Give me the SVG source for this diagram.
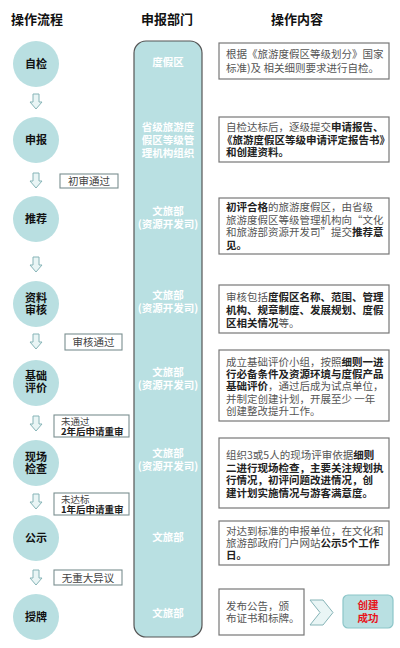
<svg xmlns="http://www.w3.org/2000/svg" xmlns:xlink="http://www.w3.org/1999/xlink" width="400" height="648" viewBox="0 0 400 648">
<style>
text{font-family:"Microsoft YaHei","Noto Sans CJK SC","Noto Sans",sans-serif;}
.hdr{font-size:13px;font-weight:bold;fill:#111;text-anchor:middle;}
.circ{fill:#b9dfe1;}
.ctext{font-size:11px;font-weight:bold;fill:#111;text-anchor:middle;}
.mid{fill:#b9e0e2;stroke:#555;stroke-width:1.2;}
.mtext{font-size:10.5px;font-weight:bold;fill:#fff;text-anchor:middle;}
.box{fill:#fff;stroke:#777;stroke-width:1.2;}
.btext{font-size:10.5px;fill:#555;}
.b{font-weight:bold;fill:#222;}
.lbl{fill:#fff;stroke:#7a8f90;stroke-width:1.1;}
.ltext{font-size:10.5px;fill:#444;}
.arr{fill:#e9f5f5;stroke:#86b4b7;stroke-width:1;}
</style>
<defs>
<path id="darr" d="M-3,0 L3,0 L3,8 L6,8 L0,15 L-6,8 L-3,8 Z"/>
</defs>

<g id="headers">
<text class="hdr" x="37" y="24">操作流程</text>
<text class="hdr" x="167" y="24">申报部门</text>
<text class="hdr" x="297" y="24">操作内容</text>
</g>

<g id="dept-column">
<rect class="mid" x="134" y="41" width="68" height="596" rx="12"/>
<text class="mtext" x="168" y="66">度假区</text>
<text class="mtext" x="168" y="131">省级旅游度<tspan x="168" dy="13">假区等级管</tspan><tspan x="168" dy="13">理机构组织</tspan></text>
<text class="mtext" x="168" y="215">文旅部<tspan x="168" dy="13">(资源开发司)</tspan></text>
<text class="mtext" x="168" y="299">文旅部<tspan x="168" dy="13">(资源开发司)</tspan></text>
<text class="mtext" x="168" y="376">文旅部<tspan x="168" dy="13">(资源开发司)</tspan></text>
<text class="mtext" x="168" y="457">文旅部<tspan x="168" dy="13">(资源开发司)</tspan></text>
<text class="mtext" x="168" y="541">文旅部</text>
<text class="mtext" x="168" y="617">文旅部</text>
</g>

<g id="step-zijian">
<circle class="circ" cx="36" cy="64" r="23"/>
<text class="ctext" x="36" y="68">自检</text>
</g>
<g id="step-shenbao">
<circle class="circ" cx="36" cy="140" r="23"/>
<text class="ctext" x="36" y="144">申报</text>
</g>
<g id="step-tuijian">
<circle class="circ" cx="36" cy="219" r="23"/>
<text class="ctext" x="36" y="223">推荐</text>
</g>
<g id="step-ziliao">
<circle class="circ" cx="36" cy="304" r="23"/>
<text class="ctext" x="36" y="302">资料<tspan x="36" dy="12">审核</tspan></text>
</g>
<g id="step-jichu">
<circle class="circ" cx="36" cy="383" r="23"/>
<text class="ctext" x="36" y="380">基础<tspan x="36" dy="12">评价</tspan></text>
</g>
<g id="step-xianchang">
<circle class="circ" cx="36" cy="463" r="23"/>
<text class="ctext" x="36" y="461">现场<tspan x="36" dy="12">检查</tspan></text>
</g>
<g id="step-gongshi">
<circle class="circ" cx="36" cy="538" r="23"/>
<text class="ctext" x="36" y="542">公示</text>
</g>
<g id="step-shoupai">
<circle class="circ" cx="36" cy="617" r="23"/>
<text class="ctext" x="36" y="621">授牌</text>
</g>

<g id="connectors">
<use xlink:href="#darr" class="arr" x="36" y="94"/>
<use xlink:href="#darr" class="arr" x="36" y="173"/>
<use xlink:href="#darr" class="arr" x="36" y="257"/>
<use xlink:href="#darr" class="arr" x="36" y="334"/>
<use xlink:href="#darr" class="arr" x="36" y="416"/>
<use xlink:href="#darr" class="arr" x="36" y="494"/>
<use xlink:href="#darr" class="arr" x="36" y="570"/>
<path class="arr" d="M310,600 L323,600 L333,612.5 L323,625 L310,625 L320,612.5 Z"/>
</g>

<g id="label-chushen">
<rect class="lbl" x="60" y="174" width="58" height="14"/>
<text class="ltext" x="89" y="185" text-anchor="middle">初审通过</text>
</g>
<g id="label-shenhe">
<rect class="lbl" x="65" y="334" width="57" height="16"/>
<text class="ltext" x="93.5" y="346" text-anchor="middle">审核通过</text>
</g>
<g id="label-weitongguo">
<rect class="lbl" x="54" y="415" width="75" height="22"/>
<text class="ltext" x="61" y="425" style="font-size:9.5px">未通过<tspan class="b" x="61" dy="10">2年后申请重审</tspan></text>
</g>
<g id="label-weidabiao">
<rect class="lbl" x="54" y="493" width="75" height="22"/>
<text class="ltext" x="61" y="503" style="font-size:9.5px">未达标<tspan class="b" x="61" dy="10">1年后申请重审</tspan></text>
</g>
<g id="label-wuyiyi">
<rect class="lbl" x="54" y="570" width="68" height="15"/>
<text class="ltext" x="88" y="582" text-anchor="middle">无重大异议</text>
</g>

<g id="content-1">
<rect class="box" x="219" y="43" width="170" height="36"/>
<text class="btext" x="226" y="58">根据《旅游度假区等级划分》国家<tspan x="226" dy="14">标准)及 相关细则要求进行自检。</tspan></text>
</g>
<g id="content-2">
<rect class="box" x="219" y="117" width="170" height="45"/>
<text class="btext" x="226" y="131">自检达标后，逐级提交<tspan class="b">申请报告、</tspan><tspan class="b" x="222" dy="12.5">《旅游度假区等级申请评定报告书》</tspan><tspan class="b" x="226" dy="12.5">和创建资料。</tspan></text>
</g>
<g id="content-3">
<rect class="box" x="219" y="198" width="170" height="56"/>
<text class="btext" x="226" y="211"><tspan class="b">初评合格</tspan>的旅游度假区，由省级<tspan x="226" dy="12.7">旅游度假区等级管理机构向“文化</tspan><tspan x="226" dy="12.7">和旅游部资源开发司”提交</tspan><tspan class="b">推荐意</tspan><tspan class="b" x="226" dy="12.7">见。</tspan></text>
</g>
<g id="content-4">
<rect class="box" x="219" y="285" width="170" height="48"/>
<text class="btext" x="226" y="301">审核包括<tspan class="b">度假区名称、范围、管理</tspan><tspan class="b" x="226" dy="13">机构、规章制度、发展规划、度假</tspan><tspan class="b" x="226" dy="13">区相关情况</tspan>等。</text>
</g>
<g id="content-5">
<rect class="box" x="219" y="350" width="170" height="71"/>
<text class="btext" x="226" y="366">成立基础评价小组，按照<tspan class="b">细则一进</tspan><tspan class="b" x="226" dy="12.2">行必备条件及资源环境与度假产品</tspan><tspan class="b" x="226" dy="12.2">基础评价</tspan>，通过后成为试点单位，<tspan x="226" dy="12.2">并制定创建计划，开展至少 一年</tspan><tspan x="226" dy="12.2">创建整改提升工作。</tspan></text>
</g>
<g id="content-6">
<rect class="box" x="219" y="438" width="170" height="70"/>
<text class="btext" x="226" y="459">组织3或5人的现场评审依据<tspan class="b">细则</tspan><tspan class="b" x="226" dy="12.7">二进行现场检查，主要关注规划执</tspan><tspan class="b" x="226" dy="12.7">行情况，初评问题改进情况，创</tspan><tspan class="b" x="226" dy="12.7">建计划实施情况与游客满意度。</tspan></text>
</g>
<g id="content-7">
<rect class="box" x="219" y="521" width="170" height="44"/>
<text class="btext" x="226" y="535">对达到标准的申报单位，在文化和<tspan x="226" dy="12">旅游部政府门户网站</tspan><tspan class="b">公示5个工作</tspan><tspan class="b" x="226" dy="12">日。</tspan></text>
</g>
<g id="content-8">
<rect class="box" x="219" y="589" width="85" height="46"/>
<text class="btext" x="226" y="610">发布公告，颁<tspan x="226" dy="12">布证书和标牌。</tspan></text>
</g>
<g id="result">
<rect x="343" y="595" width="50" height="33" rx="5" fill="#b9e0e2" stroke="#8cc5c8" stroke-width="1.2"/>
<text x="368" y="609" text-anchor="middle" style="font-size:10.5px;font-weight:bold;fill:#e8141c">创建<tspan x="368" dy="13">成功</tspan></text>
</g>
</svg>
